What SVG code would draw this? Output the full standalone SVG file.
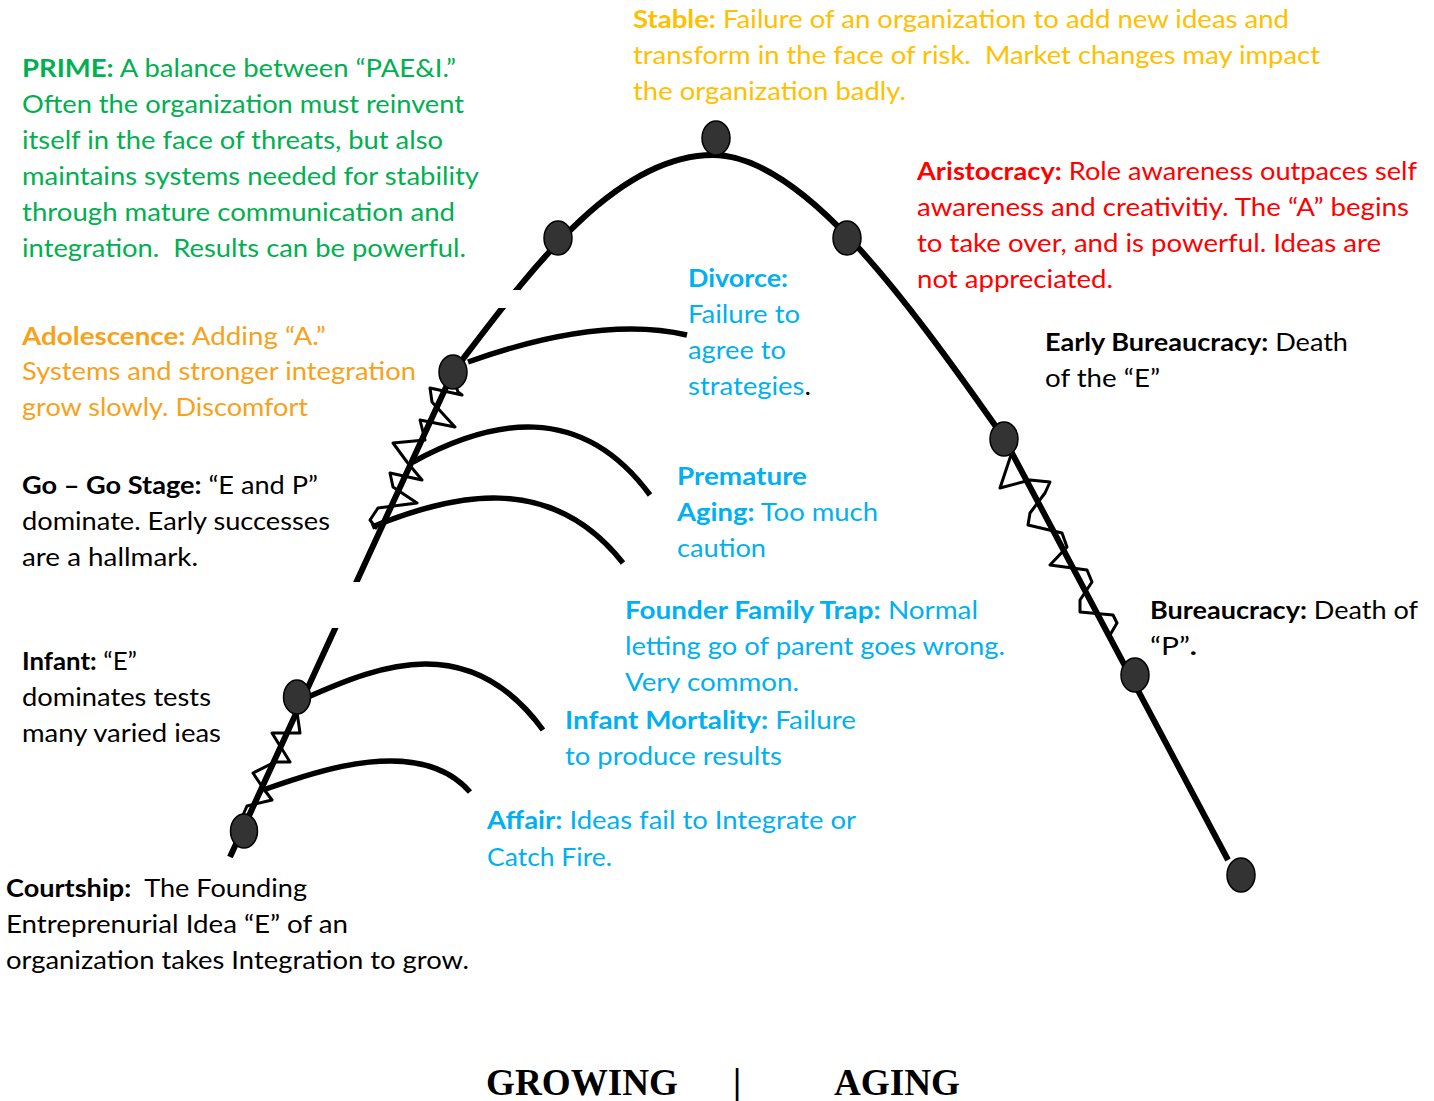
<svg xmlns="http://www.w3.org/2000/svg" width="1434" height="1101" viewBox="0 0 1434 1101">
<style>
text{font-family:Lato,"Open Sans","Liberation Sans",sans-serif;font-size:25px;white-space:pre}
.b{font-weight:bold}
.green{fill:#00b050}
.gold{fill:#ffc000}
.orange{fill:#f7a21b}
.red{fill:#ff0000}
.blue{fill:#00b0f0}
.black{fill:#000}
.ln{fill:none;stroke:#000;stroke-width:6}
.br{fill:none;stroke:#000;stroke-width:5.5;stroke-linecap:butt}
.zz{fill:none;stroke:#000;stroke-width:3;stroke-linejoin:round;stroke-linecap:round}
.dot{fill:#333;stroke:#000;stroke-width:1.5}
.mask{fill:#fff}
.foot{font-family:"Liberation Serif","Times New Roman",serif;font-weight:bold;font-size:37px;fill:#000}
</style>
<rect width="1434" height="1101" fill="#fff"/>
<g id="connectors">
<path class="ln" d="M230,857 L453,372 C520,285 610,155 713,155 C800,155 900,290 1004,438 L1228,860"/>
<rect class="mask" x="488" y="290" width="32" height="18"/>
<rect class="mask" x="300" y="582" width="80" height="46"/>
<path class="br" d="M468,362 Q600,315 687,335"/>
<path class="br" d="M413,462 C490,420 580,400 650,495"/>
<path class="br" d="M372,527 C450,495 550,470 623,563"/>
<path class="br" d="M308,697 C380,665 470,630 543,730"/>
<path class="br" d="M263,790 C320,770 420,735 470,792"/>
<path class="zz" d="M453,378 L458,392 L462,395 L430,388 L432,402 L455,427 L420,420 L425,440 L393,443 L407,462 L422,480 L390,473 L393,487 L417,503 L378,508 L370,520 L376,528"/>
<path class="zz" d="M297,712 L300,733 L272,733 L290,762 L275,762 L253,773 L263,788 L272,800 L247,806 L243,815"/>
<path class="zz" d="M1012,452 L1000,488 L1030,480 L1050,482 L1045,493 L1030,513 L1028,525 L1062,533 L1067,547 L1050,565 L1087,570 L1092,582 L1080,600 L1080,612 L1113,615 L1117,623 L1110,635"/>
</g>
<g id="dots">
<ellipse class="dot" cx="244" cy="831" rx="13.5" ry="17"/>
<ellipse class="dot" cx="297" cy="697" rx="13.5" ry="17"/>
<ellipse class="dot" cx="453" cy="372" rx="14" ry="17"/>
<ellipse class="dot" cx="558" cy="238" rx="14" ry="17"/>
<ellipse class="dot" cx="716" cy="138" rx="14" ry="17"/>
<ellipse class="dot" cx="847" cy="238" rx="14" ry="17"/>
<ellipse class="dot" cx="1004" cy="439" rx="14" ry="17"/>
<ellipse class="dot" cx="1135" cy="675" rx="14" ry="17"/>
<ellipse class="dot" cx="1241" cy="875" rx="14" ry="17"/>
</g>
<g id="stable" class="gold">
<text x="633" y="28" textLength="656" lengthAdjust="spacingAndGlyphs"><tspan class="b">Stable:</tspan> Failure of an organization to add new ideas and</text>
<text x="633" y="64" textLength="687" lengthAdjust="spacingAndGlyphs">transform in the face of risk.  Market changes may impact</text>
<text x="633" y="100" textLength="273" lengthAdjust="spacingAndGlyphs">the organization badly.</text>
</g>
<g id="prime" class="green">
<text x="22" y="77" textLength="434" lengthAdjust="spacingAndGlyphs"><tspan class="b">PRIME:</tspan> A balance between “PAE&amp;I.”</text>
<text x="22" y="113" textLength="442" lengthAdjust="spacingAndGlyphs">Often the organization must reinvent</text>
<text x="22" y="149" textLength="421" lengthAdjust="spacingAndGlyphs">itself in the face of threats, but also</text>
<text x="22" y="185" textLength="457" lengthAdjust="spacingAndGlyphs">maintains systems needed for stability</text>
<text x="22" y="221" textLength="433" lengthAdjust="spacingAndGlyphs">through mature communication and</text>
<text x="22" y="257" textLength="444" lengthAdjust="spacingAndGlyphs">integration.  Results can be powerful.</text>
</g>
<g id="aristocracy" class="red">
<text x="917" y="180" textLength="500" lengthAdjust="spacingAndGlyphs"><tspan class="b">Aristocracy:</tspan> Role awareness outpaces self</text>
<text x="917" y="216" textLength="492" lengthAdjust="spacingAndGlyphs">awareness and creativitiy. The “A” begins</text>
<text x="917" y="252" textLength="464" lengthAdjust="spacingAndGlyphs">to take over, and is powerful. Ideas are</text>
<text x="917" y="288" textLength="196" lengthAdjust="spacingAndGlyphs">not appreciated.</text>
</g>
<g id="divorce" class="blue">
<text x="688" y="287" class="b" textLength="100" lengthAdjust="spacingAndGlyphs">Divorce:</text>
<text x="688" y="323" textLength="112" lengthAdjust="spacingAndGlyphs">Failure to</text>
<text x="688" y="359" textLength="98" lengthAdjust="spacingAndGlyphs">agree to</text>
<text x="688" y="395" textLength="123" lengthAdjust="spacingAndGlyphs">strategies<tspan class="black">.</tspan></text>
</g>
<g id="adolescence" class="orange">
<text x="22" y="345" textLength="304" lengthAdjust="spacingAndGlyphs"><tspan class="b">Adolescence:</tspan> Adding “A.”</text>
<text x="22" y="380" textLength="394" lengthAdjust="spacingAndGlyphs">Systems and stronger integration</text>
<text x="22" y="416" textLength="286" lengthAdjust="spacingAndGlyphs">grow slowly. Discomfort</text>
</g>
<g id="early-bureaucracy" class="black">
<text x="1045" y="351" textLength="303" lengthAdjust="spacingAndGlyphs"><tspan class="b">Early Bureaucracy:</tspan> Death</text>
<text x="1045" y="387" textLength="115" lengthAdjust="spacingAndGlyphs">of the “E”</text>
</g>
<g id="go-go" class="black">
<text x="22" y="494" textLength="296" lengthAdjust="spacingAndGlyphs"><tspan class="b">Go – Go Stage:</tspan> “E and P”</text>
<text x="22" y="530" textLength="308" lengthAdjust="spacingAndGlyphs">dominate. Early successes</text>
<text x="22" y="566" textLength="176" lengthAdjust="spacingAndGlyphs">are a hallmark.</text>
</g>
<g id="premature-aging" class="blue">
<text x="677" y="485" class="b" textLength="130" lengthAdjust="spacingAndGlyphs">Premature</text>
<text x="677" y="521" textLength="201" lengthAdjust="spacingAndGlyphs"><tspan class="b">Aging:</tspan> Too much</text>
<text x="677" y="557" textLength="89" lengthAdjust="spacingAndGlyphs">caution</text>
</g>
<g id="founder-family-trap" class="blue">
<text x="625" y="619" textLength="353" lengthAdjust="spacingAndGlyphs"><tspan class="b">Founder Family Trap:</tspan> Normal</text>
<text x="625" y="655" textLength="380" lengthAdjust="spacingAndGlyphs">letting go of parent goes wrong.</text>
<text x="625" y="691" textLength="174" lengthAdjust="spacingAndGlyphs">Very common.</text>
<rect class="mask" x="620" y="693" width="400" height="10"/>
</g>
<g id="bureaucracy" class="black">
<text x="1150" y="619" textLength="268" lengthAdjust="spacingAndGlyphs"><tspan class="b">Bureaucracy:</tspan> Death of</text>
<text x="1150" y="655" textLength="47" lengthAdjust="spacingAndGlyphs">“P”<tspan class="b">.</tspan></text>
</g>
<g id="infant" class="black">
<text x="22" y="670" textLength="115" lengthAdjust="spacingAndGlyphs"><tspan class="b">Infant:</tspan> “E”</text>
<text x="22" y="706" textLength="189" lengthAdjust="spacingAndGlyphs">dominates tests</text>
<text x="22" y="742" textLength="199" lengthAdjust="spacingAndGlyphs">many varied ieas</text>
</g>
<g id="infant-mortality" class="blue">
<text x="565" y="729" textLength="291" lengthAdjust="spacingAndGlyphs"><tspan class="b">Infant Mortality:</tspan> Failure</text>
<text x="565" y="765" textLength="217" lengthAdjust="spacingAndGlyphs">to produce results</text>
</g>
<g id="affair" class="blue">
<text x="487" y="829" textLength="369" lengthAdjust="spacingAndGlyphs"><tspan class="b">Affair:</tspan> Ideas fail to Integrate or</text>
<text x="487" y="866" textLength="125" lengthAdjust="spacingAndGlyphs">Catch Fire.</text>
</g>
<g id="courtship" class="black">
<text x="6" y="897" textLength="301" lengthAdjust="spacingAndGlyphs"><tspan class="b">Courtship:</tspan>  The Founding</text>
<text x="6" y="933" textLength="342" lengthAdjust="spacingAndGlyphs">Entreprenurial Idea “E” of an</text>
<text x="6" y="969" textLength="463" lengthAdjust="spacingAndGlyphs">organization takes Integration to grow.</text>
</g>
<g id="footer">
<text class="foot" x="486" y="1095" textLength="192" lengthAdjust="spacingAndGlyphs">GROWING</text>
<text class="foot" x="733" y="1095">|</text>
<text class="foot" x="834" y="1095" textLength="126" lengthAdjust="spacingAndGlyphs">AGING</text>
</g>
</svg>
